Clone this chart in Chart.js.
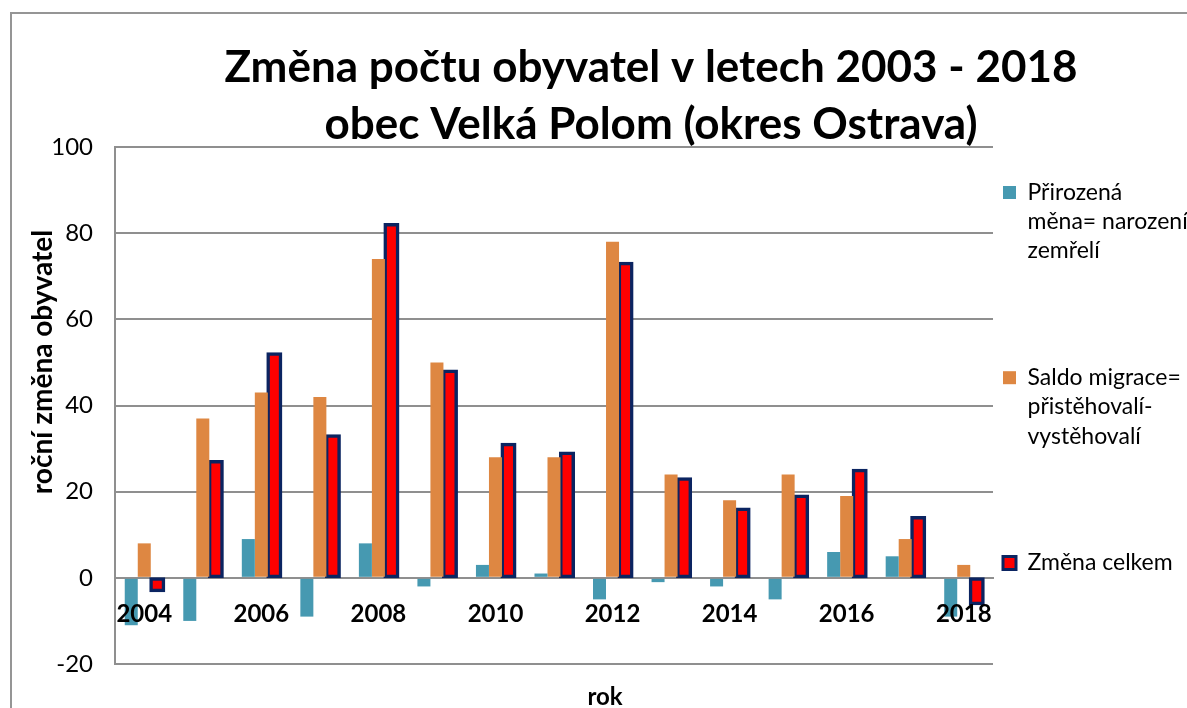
<!doctype html>
<html>
<head>
	<meta charset="utf-8">
	<title>Změna počtu obyvatel</title>
	<script src="https://cdn.jsdelivr.net/npm/chart.js@4"></script>
	<style>
		html, body {
			margin: 0;
			padding: 0;
			background: #fff;
			overflow: hidden;
		}
		#frame {
			position: absolute;
			left: 10px;
			top: 12px;
			width: 1400px;
			height: 1000px;
			border: 2px solid #959595;
		}
		#canvas {
			position: absolute;
			left: 0;
			top: 0;
		}
	</style>
</head>

<body>
	<div id="frame"></div>
	<canvas id="canvas" width="1230" height="708"></canvas>
	<script>
		// data
		var years = ['2004', '2005', '2006', '2007', '2008', '2009', '2010', '2011', '2012', '2013', '2014', '2015', '2016', '2017', '2018'];
		var prirozenaMena = [-11, -10, 9, -9, 8, -2, 3, 1, -5, -1, -2, -5, 6, 5, -9];
		var saldoMigrace = [8, 37, 43, 42, 74, 50, 28, 28, 78, 24, 18, 24, 19, 9, 3];
		var zmenaCelkem = [-3, 27, 52, 33, 82, 48, 31, 29, 73, 23, 16, 19, 25, 14, -6];
		var yTicks = [-20, 0, 20, 40, 60, 80, 100];

		var legendLabels = [
			['Přirozená', 'měna= narození-', 'zemřelí'],
			['Saldo migrace=', 'přistěhovalí-', 'vystěhovalí'],
			['Změna celkem']
		];
		var titleLines = ['Změna počtu obyvatel v letech 2003 - 2018', 'obec Velká Polom (okres Ostrava)'];
		var xTitle = 'rok';
		var yTitle = 'roční změna obyvatel';

		var gridColor = '#8f8f8f';

		Chart.defaults.font.family = 'Lato';
		Chart.defaults.color = '#000';

		// title and axis titles sit off-centre in the original, so draw them by hand
		var textPlugin = {
			id: 'texts',
			afterDraw: function(chart) {
				var ctx = chart.ctx;
				ctx.save();
				ctx.fillStyle = '#000';
				ctx.textAlign = 'center';
				ctx.textBaseline = 'alphabetic';
				ctx.font = 'bold 44px Lato';
				ctx.fillText(titleLines[0], 651, 82);
				ctx.fillText(titleLines[1], 651, 139);
				ctx.font = 'bold 24px Lato';
				ctx.fillText(xTitle, 605, 705);
				ctx.font = 'bold 28px Lato';
				ctx.translate(52, 362);
				ctx.rotate(-Math.PI / 2);
				ctx.fillText(yTitle, 0, 0);
				ctx.restore();
			}
		};

		var config = {
			type: 'bar',
			data: {
				labels: years,
				datasets: [{
					label: 'Přirozená měna',
					data: prirozenaMena,
					backgroundColor: '#4699B1',
					borderWidth: 0
				}, {
					label: 'Saldo migrace',
					data: saldoMigrace,
					backgroundColor: '#DE8742',
					borderWidth: 0
				}, {
					label: 'Změna celkem',
					data: zmenaCelkem,
					backgroundColor: '#FF0000',
					borderColor: '#0B2461',
					borderWidth: 3.5,
					borderSkipped: false,
					inflateAmount: 1.5
				}]
			},
			options: {
				responsive: false,
				animation: false,
				events: [],
				layout: {
					padding: { left: 35, top: 147, right: 37, bottom: 44 }
				},
				datasets: {
					bar: {
						categoryPercentage: 0.667,
						barPercentage: 1.0
					}
				},
				plugins: {
					tooltip: { enabled: false },
					title: { display: false },
					legend: {
						position: 'right',
						align: 'start',
						maxWidth: 200,
						title: {
							display: true,
							text: '',
							font: { size: 10, lineHeight: 1 },
							padding: { top: 14, bottom: 0 }
						},
						labels: {
							boxWidth: 13,
							boxHeight: 13,
							padding: 10,
							color: '#000',
							font: { size: 23, lineHeight: '29.2px' },
							generateLabels: function(chart) {
								return chart.data.datasets.map(function(ds, i) {
									var text = legendLabels[i].slice();
									if (i < 2) {
										while (text.length < 6) text.push('');
									}
									return {
										text: text,
										fillStyle: ds.backgroundColor,
										strokeStyle: ds.borderColor || ds.backgroundColor,
										lineWidth: i === 2 ? 3 : 0,
										datasetIndex: i,
										hidden: false
									};
								});
							}
						}
					}
				},
				scales: {
					x: {
						position: { y: 0 },
						grid: { display: false, drawTicks: false },
						border: { display: true, color: gridColor, width: 2 },
						ticks: {
							z: 1,
							autoSkip: false,
							maxRotation: 0,
							padding: 22,
							font: { size: 24, weight: 'bold' },
							callback: function(value, index) {
								return index % 2 === 0 ? years[index] : '';
							}
						}
					},
					y: {
						min: -20,
						max: 100,
						grid: { color: gridColor, lineWidth: 2, drawTicks: false },
						border: { display: true, color: gridColor, width: 2 },
						ticks: { padding: 22, font: { size: 24 } },
						afterBuildTicks: function(scale) {
							scale.ticks = yTicks.map(function(v) { return { value: v }; });
						},
						afterFit: function(scale) {
							scale.width = 80;
						}
					}
				}
			},
			plugins: [textPlugin]
		};

		window.onload = function() {
			window.myBar = new Chart(document.getElementById('canvas'), config);
		};
	</script>
</body>

</html>
